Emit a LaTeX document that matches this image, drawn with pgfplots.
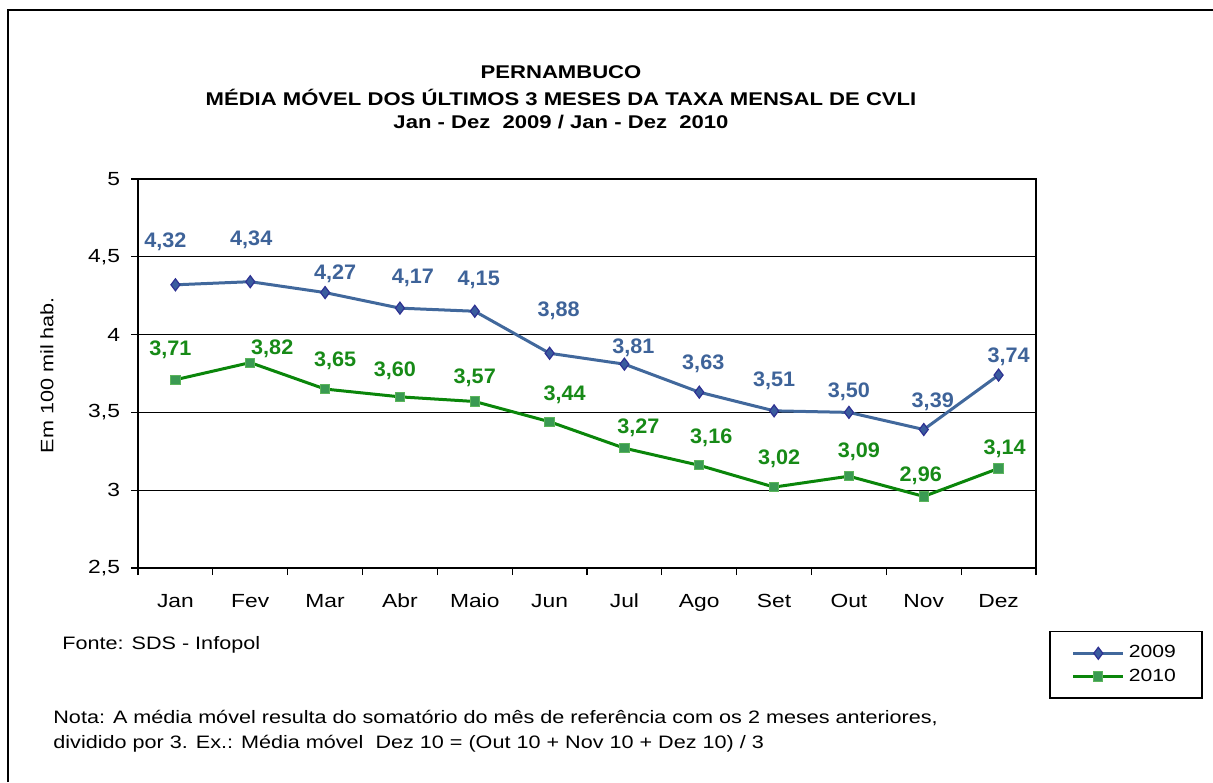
\documentclass[border=0pt]{standalone}
\usepackage{fontspec}
\setmainfont[FakeStretch=1.2]{Liberation Sans}
\newfontfamily\labfont[FakeStretch=1.03]{Liberation Sans}
\usepackage{pgfplots}
\usepackage{pgfplotstable}
\pgfplotsset{compat=1.18}
\definecolor{blueline}{HTML}{41689C}
\definecolor{bluelab}{HTML}{3E6399}
\definecolor{bluefill}{HTML}{3A5C9E}
\definecolor{bluedraw}{HTML}{2E3192}
\definecolor{greenline}{HTML}{0A860A}
\definecolor{greenlab}{HTML}{178A17}
\definecolor{greenfill}{HTML}{3A9A52}
\definecolor{greendraw}{HTML}{5BB55B}

\pgfplotstableread{
x y lab dx dy
0 4.32 4,32 -10 43
1 4.34 4,34 1 42
2 4.27 4,27 10 19
3 4.17 4,17 13 30
4 4.15 4,15 4 31
5 3.88 3,88 9 42
6 3.81 3,81 9 16
7 3.63 3,63 4 28
8 3.51 3,51 0 30
9 3.50 3,50 0 21
10 3.39 3,39 9 28
11 3.74 3,74 10 18
}\datanove

\pgfplotstableread{
x y lab dx dy
0 3.71 3,71 -5 30
1 3.82 3,82 22 14
2 3.65 3,65 10 28
3 3.60 3,60 -5 26
4 3.57 3,57 0 24
5 3.44 3,44 15 27
6 3.27 3,27 14 20
7 3.16 3,16 12 28
8 3.02 3,02 5 28
9 3.09 3,09 10 24
10 2.96 2,96 -3 21
11 3.14 3,14 6 20
}\datadez

\begin{document}
\begin{tikzpicture}[x=0.5pt,y=0.5pt]
\useasboundingbox (0,0) rectangle (1213,782);
\draw[line width=1.2pt] (8,0) -- (8,772) -- (1213,772);
\node[font=\bfseries\fontsize{9.2}{11}\selectfont] at (561,710) {PERNAMBUCO};
\node[font=\bfseries\fontsize{9.2}{11}\selectfont] at (561,685) {MÉDIA MÓVEL DOS ÚLTIMOS 3 MESES DA TAXA MENSAL DE CVLI};
\node[font=\bfseries\fontsize{9.2}{11}\selectfont] at (561,660) {Jan - Dez\ \ 2009 / Jan - Dez\ \ 2010};
\node[rotate=90,font=\fontsize{9}{11}\selectfont] at (47,407) {Em 100 mil hab.};
\node[anchor=west,inner sep=0pt,font=\fontsize{9}{11}\selectfont] at (62,137) {Fonte: SDS - Infopol};
\node[anchor=west,inner sep=0pt,font=\fontsize{9}{11}\selectfont] at (53,64) {Nota: A média móvel resulta do somatório do mês de referência com os 2 meses anteriores,};
\node[anchor=west,inner sep=0pt,font=\fontsize{9}{11}\selectfont] at (53,38) {dividido por 3. Ex.: Média móvel\ \ Dez 10 = (Out 10 + Nov 10 + Dez 10) / 3};
\begin{axis}[
  at={(69pt,107pt)}, anchor=south west,
  scale only axis, width=449pt, height=194.5pt,
  xmin=-0.5, xmax=11.5, ymin=2.5, ymax=5,
  ytick={2.5,3,3.5,4,4.5,5},
  xtick={-0.5,0.5,...,11.5},
  x tick label as interval,
  xticklabels={Jan,Fev,Mar,Abr,Maio,Jun,Jul,Ago,Set,Out,Nov,Dez},
  ymajorgrids,
  grid style={line width=0.6pt, black},
  axis line style={line width=0.8pt},
  tick align=outside, tick pos=left,
  major tick length=3.5pt,
  tick style={black, line width=0.6pt},
  /pgf/number format/assume math mode=true,
  /pgf/number format/use comma,
  ticklabel style={font=\fontsize{9.5}{11}\selectfont},
  xticklabel style={yshift=-6pt},
  yticklabel style={xshift=-2pt},
  legend style={at={(1.0145,-0.3368)}, anchor=south west, draw=black, line width=0.8pt,
    font=\fontsize{8.8}{11}\selectfont, inner xsep=11pt, inner ysep=5pt, row sep=0pt,
    cells={anchor=west}},
  legend image code/.code={\draw[mark repeat=2,mark phase=2,#1] plot coordinates {(0pt,0pt)(12.5pt,0pt)(25pt,0pt)};},
  nodes near coords,
  point meta=explicit symbolic,
  visualization depends on={\thisrow{dx}\as\dx},
  visualization depends on={\thisrow{dy}\as\dy},
  every node near coord/.append style={anchor=center, inner sep=0pt,
    xshift={\dx*0.5pt}, yshift={\dy*0.5pt}, font=\labfont\bfseries\fontsize{10.5}{12}\selectfont},
]
\addplot[color=blueline, line width=1.5pt, mark=diamond*,
  mark size=3pt, mark options={fill=bluefill, draw=bluedraw, line width=0.6pt},
  every node near coord/.append style={text=bluelab}]
  table[x=x, y=y, meta=lab] {\datanove};
\addlegendentry{2009}
\addplot[color=greenline, line width=1.5pt, mark=square*,
  mark size=2.3pt, mark options={fill=greenfill, draw=greendraw, line width=0.5pt},
  every node near coord/.append style={text=greenlab}]
  table[x=x, y=y, meta=lab] {\datadez};
\addlegendentry{2010}
\end{axis}
\end{tikzpicture}
\end{document}
